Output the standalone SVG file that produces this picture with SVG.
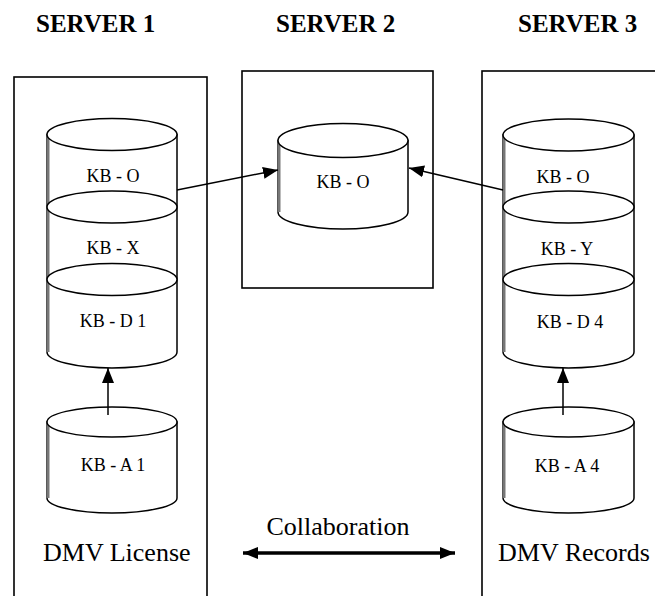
<svg xmlns="http://www.w3.org/2000/svg" width="655" height="596" viewBox="0 0 655 596">
<defs>
<style>
.box{fill:none;stroke:#000;stroke-width:1.6}
.cyl{fill:#fff;stroke:#000;stroke-width:1.5}
.ln{fill:none;stroke:#000;stroke-width:1.5}
.shade{stroke:#777;stroke-width:3}
.title{font-family:"Liberation Serif",serif;font-weight:bold;font-size:25px;fill:#000}
.kb{font-family:"Liberation Serif",serif;font-size:18px;fill:#000;text-anchor:middle}
.lbl{font-family:"Liberation Serif",serif;font-size:26px;fill:#000}
.con{fill:none;stroke:#000;stroke-width:1.5}
.thick{fill:none;stroke:#000;stroke-width:3.5}
</style>
<marker id="ah" markerUnits="userSpaceOnUse" markerWidth="16" markerHeight="12" refX="15" refY="6" orient="auto">
<path d="M0,0 L15,6 L0,12 Z" fill="#000"/>
</marker>
<marker id="ahs" markerUnits="userSpaceOnUse" markerWidth="16" markerHeight="12" refX="15" refY="6" orient="auto-start-reverse">
<path d="M0,0 L15,6 L0,12 Z" fill="#000"/>
</marker>
</defs>
<rect width="655" height="596" fill="#fff"/>

<g id="server1">
<text class="title" x="36" y="32">SERVER 1</text>
<rect class="box" x="14" y="77" width="193" height="540"/>
<text class="lbl" x="43" y="561">DMV License</text>
</g>
<g id="server2">
<text class="title" x="276" y="32">SERVER 2</text>
<rect class="box" x="242" y="71" width="191" height="217"/>
</g>
<g id="server3">
<text class="title" x="518" y="32">SERVER 3</text>
<rect class="box" x="482" y="71" width="200" height="546"/>
<text class="lbl" x="498" y="561">DMV Records</text>
</g>

<g id="s1-stack">
<path class="cyl" d="M47,134.5 L47,352 A65,16 0 0 0 177,352 L177,134.5 Z"/>
<line class="shade" x1="48" y1="134.5" x2="48" y2="352"/>
<ellipse class="cyl" cx="112" cy="134.5" rx="65" ry="16"/>
<ellipse class="cyl" cx="112" cy="207" rx="65" ry="16"/>
<ellipse class="cyl" cx="112" cy="279.5" rx="65" ry="16"/>
<text class="kb" x="113" y="182">KB - O</text>
<text class="kb" x="113" y="254">KB - X</text>
<text class="kb" x="113" y="327">KB - D 1</text>
</g>
<g id="s1-kba1">
<path class="cyl" d="M47,422 L47,498 A65,15 0 0 0 177,498 L177,422 Z"/>
<line class="shade" x1="48" y1="422" x2="48" y2="498"/>
<ellipse class="cyl" cx="112" cy="422" rx="65" ry="15"/>
<text class="kb" x="113" y="471">KB - A 1</text>
</g>

<g id="s2-kbo">
<path class="cyl" d="M278,140.5 L278,212 A65,17 0 0 0 408,212 L408,140.5 Z"/>
<line class="shade" x1="279" y1="140.5" x2="279" y2="212"/>
<ellipse class="cyl" cx="343" cy="140.5" rx="65" ry="17"/>
<text class="kb" x="343" y="188">KB - O</text>
</g>

<g id="s3-stack">
<path class="cyl" d="M503,135 L503,352 A65.5,16 0 0 0 634,352 L634,135 Z"/>
<line class="shade" x1="504" y1="135" x2="504" y2="352"/>
<ellipse class="cyl" cx="568.5" cy="135" rx="65.5" ry="16"/>
<ellipse class="cyl" cx="568.5" cy="207" rx="65.5" ry="16"/>
<ellipse class="cyl" cx="568.5" cy="279.5" rx="65.5" ry="16"/>
<text class="kb" x="563" y="183">KB - O</text>
<text class="kb" x="567" y="255">KB - Y</text>
<text class="kb" x="570" y="328">KB - D 4</text>
</g>
<g id="s3-kba4">
<path class="cyl" d="M503,422 L503,498 A65.5,15 0 0 0 634,498 L634,422 Z"/>
<line class="shade" x1="504" y1="422" x2="504" y2="498"/>
<ellipse class="cyl" cx="568.5" cy="422" rx="65.5" ry="15"/>
<text class="kb" x="567" y="472">KB - A 4</text>
</g>

<g id="collab">
<text class="lbl" x="338" y="535" text-anchor="middle">Collaboration</text>
</g>

<g id="connectors">
<line class="con" x1="177" y1="190" x2="278" y2="170" marker-end="url(#ah)"/>
<line class="con" x1="503" y1="190" x2="409" y2="168" marker-end="url(#ah)"/>
<line class="con" x1="108" y1="415" x2="108" y2="368" marker-end="url(#ah)"/>
<line class="con" x1="563" y1="415" x2="563" y2="368" marker-end="url(#ah)"/>
<line class="thick" x1="243" y1="553" x2="455" y2="553" marker-start="url(#ahs)" marker-end="url(#ahs)"/>
</g>
</svg>
